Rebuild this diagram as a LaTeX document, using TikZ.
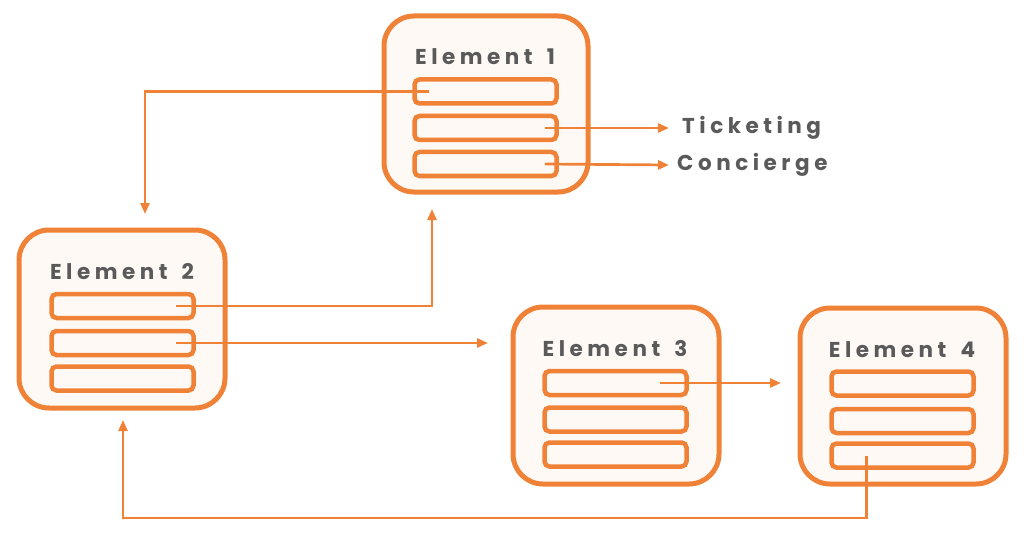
\documentclass[tikz,border=0pt]{standalone}
\usepackage{fontspec}
\newfontfamily\lblfont[LetterSpace=21]{Poppins}
\usetikzlibrary{arrows.meta,calc}
\definecolor{org}{HTML}{F08238}
\definecolor{boxfill}{HTML}{FFF9F6}
\definecolor{txt}{HTML}{5A5A5A}
\tikzset{
  elembox/.style={draw=org, line width=5pt, fill=boxfill, rounded corners=30pt},
  rowbox/.style={draw=org, line width=4.5pt, fill=boxfill, rounded corners=5pt, minimum width=142pt, minimum height=24pt, inner sep=0pt},
  title/.style={text=txt, font=\lblfont\bfseries\fontsize{21.5}{26}\selectfont, inner sep=0pt},
  conn/.style={draw=org, line width=2.7pt, -{Triangle[length=11pt,width=9pt]}},
}
\begin{document}
\begin{tikzpicture}[x=1pt,y=-1pt]
\useasboundingbox (0,0) rectangle (1024,540);
% Element boxes
\draw[elembox] (384,16) rectangle (588,192);
\draw[elembox] (19,230) rectangle (225,408);
\draw[elembox] (513,307) rectangle (719,484);
\draw[elembox] (800,308) rectangle (1006,484);
% Titles
\node[title] (t1) at (485,57) {Element\hspace{5pt} 1};
\node[title] (t2) at (122,272) {Element\hspace{5pt} 2};
\node[title] (t3) at (615,349) {Element\hspace{5pt} 3};
\node[title] (t4) at (902,350) {Element\hspace{5pt} 4};
% Rows
\node[rowbox] (e1r1) at (485.5,91.5) {};
\node[rowbox] (e1r2) at (485.5,128) {};
\node[rowbox] (e1r3) at (485.5,164) {};
\node[rowbox] (e2r1) at (122.5,306) {};
\node[rowbox] (e2r2) at (122.5,343) {};
\node[rowbox] (e2r3) at (122.5,378.5) {};
\node[rowbox] (e3r1) at (615.5,383) {};
\node[rowbox] (e3r2) at (615.5,419.5) {};
\node[rowbox] (e3r3) at (615.5,454.5) {};
\node[rowbox] (e4r1) at (902.5,383.5) {};
\node[rowbox] (e4r2) at (902.5,421) {};
\node[rowbox] (e4r3) at (902.5,455.5) {};
% Side labels
\node[title, anchor=west] (tick) at (682,128) {Ticketing};
\node[title, anchor=west] (conc) at (677,165) {Concierge};
% Connector end points
\coordinate (s1) at ($(e1r1.west)+(17,0)$);
\coordinate (a1) at (145,214);
\coordinate (s2) at ($(e2r1.east)+(-20,0)$);
\coordinate (a2) at (432,209);
\coordinate (s3) at ($(e2r2.east)+(-20,0)$);
\coordinate (a3) at (488,343);
\coordinate (s4) at ($(e3r1.east)+(-29,0)$);
\coordinate (a4) at (781,383);
\coordinate (s5) at ($(e4r3.west)+(37,0)$);
\coordinate (a5) at (123,420);
\coordinate (s6) at ($(e1r2.east)+(-14,0)$);
\coordinate (s7) at ($(e1r3.east)+(-14,0)$);
% Connectors
\draw[conn] (s1) -| (a1);
\draw[conn] (s2) -| (a2);
\draw[conn] (s3) -- (a3);
\draw[conn] (s4) -- (a4);
\draw[conn] (s5) |- (123,518) -- (a5);
\draw[conn] (s6) -- ($(tick.west)+(-13,0)$);
\draw[conn] (s7) -- ($(conc.west)+(-8,0)$);
\end{tikzpicture}
\end{document}
